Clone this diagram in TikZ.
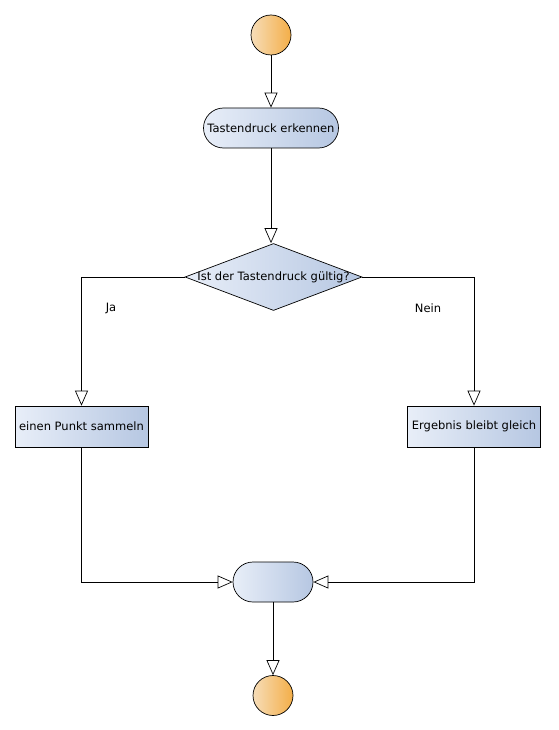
\documentclass[tikz,border=0pt]{standalone}
\usepackage{fontspec}
\setmainfont{DejaVu Sans}
\usetikzlibrary{arrows.meta,shapes.geometric}
\definecolor{actlight}{HTML}{E8EEF8}
\definecolor{actdark}{HTML}{B6C7E2}
\definecolor{startlight}{HTML}{F6DDB8}
\definecolor{startdark}{HTML}{F4AE48}
\tikzset{
    flow/.style={line width=0.7pt,-{Triangle[open,length=15pt,width=13pt]}},
    action/.style={draw,line width=0.7pt,rounded corners=20pt,
        minimum width=135pt,minimum height=40pt,
        left color=actlight,right color=actdark,font=\fontsize{11.5}{13}\selectfont},
    task/.style={draw,line width=0.7pt,minimum width=133pt,minimum height=41pt,
        left color=actlight,right color=actdark,font=\fontsize{11.5}{13}\selectfont},
    terminal/.style={draw,line width=0.7pt,circle,minimum size=40pt,inner sep=0pt,
        left color=startlight,right color=startdark}
}
\begin{document}
\begin{tikzpicture}[x=1pt,y=-1pt]
    \useasboundingbox (0,0) rectangle (558,730);
    \node[terminal] (start) at (271,35) {};
    \node[action] (detect) at (271,128) {Tastendruck erkennen};
    \node[draw,line width=0.7pt,diamond,minimum width=177pt,minimum height=67pt,
        inner sep=0pt,left color=actlight,right color=actdark,
        label={[font=\fontsize{11.5}{13}\selectfont]center:Ist der Tastendruck gültig?}]
        (check) at (273.5,277) {};
    \node[task] (collect) at (81.5,426.5) {einen Punkt sammeln};
    \node[task] (same) at (474,426.5) {Ergebnis bleibt gleich};
    \node[action,minimum width=80pt] (merge) at (273,582) {};
    \node[terminal] (stop) at (273,695.5) {};
    \node[font=\fontsize{11.5}{13}\selectfont] (yes) at (111,308) {Ja};
    \node[font=\fontsize{11.5}{13}\selectfont] (no) at (428,308) {Nein};
    % Verbindungen
    \draw[flow] (start) -- (detect);
    \draw[flow] (detect.south) -- (detect.south |- check.north);
    \draw[flow] (check.west) -| (collect.north);
    \draw[flow] (check.east) -| (same.north);
    \draw[flow] (collect.south) |- (merge.west);
    \draw[flow] (same.south) |- (merge.east);
    \draw[flow] (merge) -- (stop);
\end{tikzpicture}
\end{document}
